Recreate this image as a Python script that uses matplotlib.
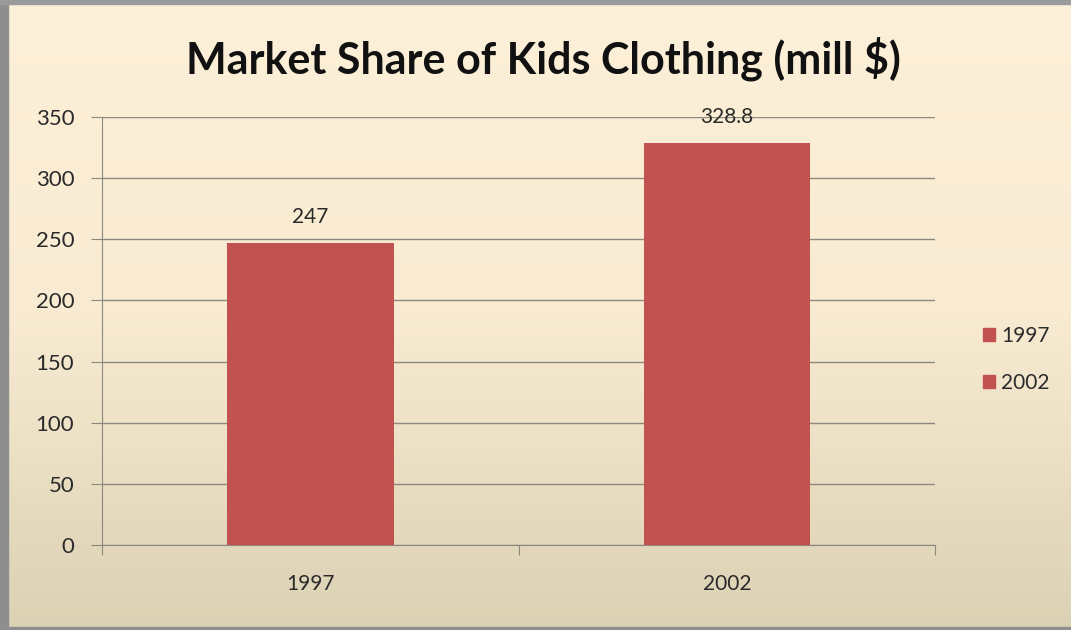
import numpy as np
import matplotlib
matplotlib.use('Agg')
import matplotlib.pyplot as plt
from matplotlib.patches import Patch, Rectangle
from matplotlib.colors import LinearSegmentedColormap

# Данные
years = ['1997', '2002']
sales = [247, 328.8]

bar_color = '#C2524F'
grid_color = '#8C8A7E'
text_color = '#2A2A2A'

plt.rcParams['font.family'] = ['Lato', 'DejaVu Sans']

fig = plt.figure(figsize=(10.71, 6.30), dpi=100)

# Фон с вертикальным градиентом
bg = fig.add_axes([0, 0, 1, 1], zorder=0)
grad = LinearSegmentedColormap.from_list('bg', ['#FDF0D8', '#F8EBD2', '#DBD1B3'])
bg.imshow(np.linspace(0, 1, 256).reshape(-1, 1), aspect='auto', cmap=grad,
          extent=[0, 1, 0, 1], origin='upper')
bg.set_xlim(0, 1)
bg.set_ylim(0, 1)
bg.axis('off')
# Серая рамка слева, сверху и снизу
bg.add_patch(Rectangle((0, 0), 0.0075, 1, color='#8E8E8E'))
bg.add_patch(Rectangle((0, 0.993), 1, 0.007, color='#9A9A9A'))
bg.add_patch(Rectangle((0, 0), 1, 0.005, color='#8E8E8E'))

ax = fig.add_axes([0.0952, 0.1349, 0.778, 0.6794], zorder=1)
ax.patch.set_alpha(0)

x = np.arange(len(years))
ax.bar(x, sales, width=0.4, color=bar_color, zorder=3)

for xi, v in zip(x, sales):
    ax.text(xi, v + 21, f'{v:g}', ha='center', va='center', fontsize=15, color=text_color)

ax.set_xlim(-0.5, 1.5)
ax.set_ylim(0, 350)
ax.set_yticks(range(0, 351, 50))
ax.yaxis.grid(True, color=grid_color, linewidth=1)
ax.set_axisbelow(True)

ax.set_xticks([-0.5, 0.5, 1.5])
ax.set_xticklabels([])
ax.tick_params(axis='x', direction='out', length=7, color=grid_color)
ax.tick_params(axis='y', direction='out', length=8, color=grid_color,
               labelsize=16, labelcolor=text_color, pad=12)
for xi, lab in zip(x, years):
    ax.text(xi, -32, lab, ha='center', va='center', fontsize=15, color=text_color)

for side in ['top', 'right']:
    ax.spines[side].set_visible(False)
ax.spines['left'].set_color(grid_color)
ax.spines['bottom'].set_color(grid_color)

fig.text(0.507, 0.906, 'Market Share of Kids Clothing (mill $)', ha='center', va='center',
         fontsize=31, fontweight='bold', color='#111111')

handles = [Patch(color=bar_color, label=y) for y in years]
fig.legend(handles=handles, loc='center left', bbox_to_anchor=(0.9, 0.43),
           frameon=False, fontsize=15, handlelength=0.6, handleheight=0.6,
           handletextpad=0.3, labelspacing=1.3, labelcolor=text_color)

fig.savefig('out.png', dpi=100)
